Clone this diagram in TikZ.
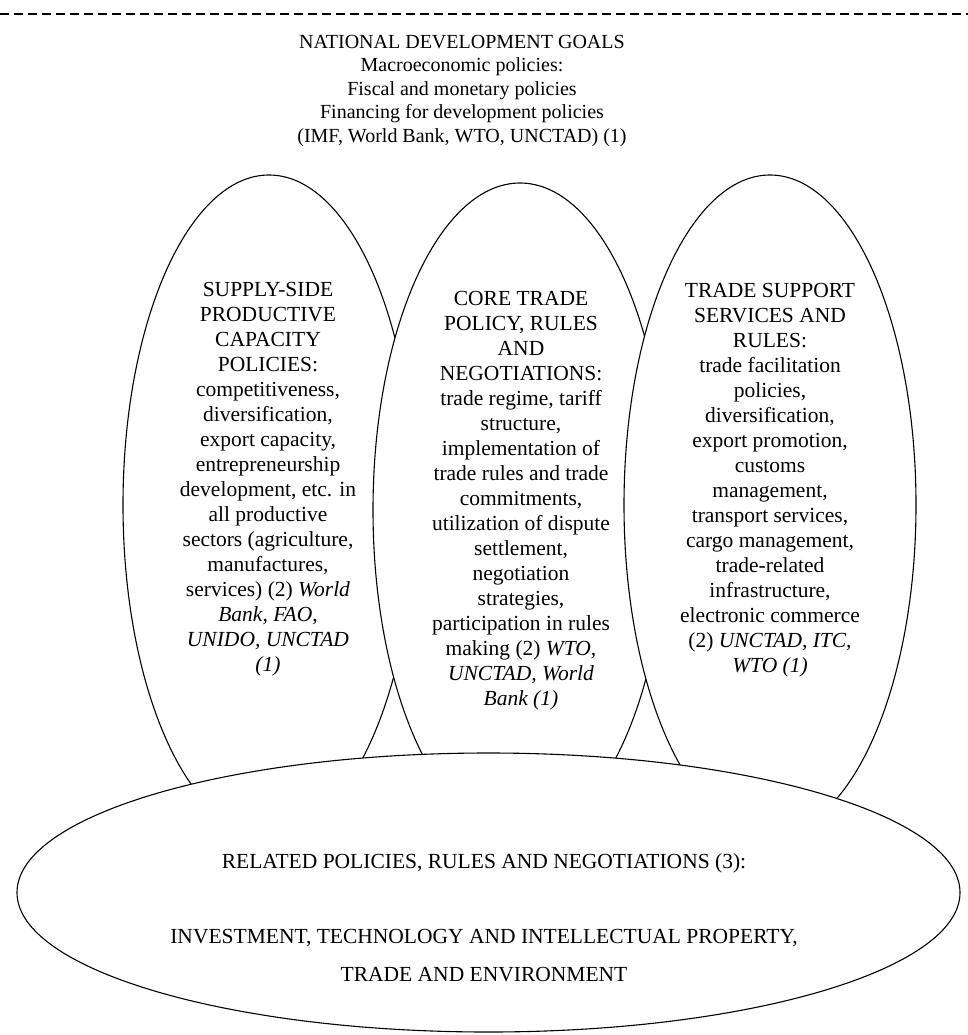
\documentclass[tikz,border=0pt]{standalone}
\usepackage{fontspec}
\setmainfont{Liberation Serif}
\usetikzlibrary{shapes.geometric}
\begin{document}
\begin{tikzpicture}[x=1pt,y=-1pt,
  oval/.style={draw, ellipse, fill=white, line width=1.1pt, inner sep=0pt},
  ovaltext/.style={align=center, inner sep=0pt, anchor=north, font=\fontsize{21.5}{25}\selectfont},
  titletext/.style={align=center, inner sep=0pt, anchor=north, font=\fontsize{20}{23.5}\selectfont},
  basetext/.style={align=center, inner sep=0pt, anchor=north, font=\fontsize{21.5}{37.5}\selectfont},
  rule/.style={line width=1.1pt, dash pattern=on 9pt off 5pt}]
\useasboundingbox (0,0) rectangle (968,1035);
% top dashed rule
\coordinate (ruleL) at (0,14);
\coordinate (ruleR) at (968,14);
\draw[rule] (ruleL) -- (ruleR);
% title
\node[titletext] (goals) at (462,35) {NATIONAL DEVELOPMENT GOALS\\Macroeconomic policies:\\Fiscal and monetary policies\\Financing for development policies\\(IMF, World Bank, WTO, UNCTAD) (1)};
% three overlapping ovals
\node[oval, minimum width=292pt, minimum height=660pt] (supply) at (269,505) {};
\node[oval, minimum width=294pt, minimum height=654pt] (core) at (520,510) {};
\node[oval, minimum width=292pt, minimum height=660pt] (support) at (770,505) {};
% bottom oval
\node[oval, minimum width=943pt, minimum height=279pt] (related) at (488.5,892.5) {};
% texts
\node[ovaltext] (supplytxt) at (268,282) {SUPPLY-SIDE\\PRODUCTIVE\\CAPACITY\\POLICIES:\\competitiveness,\\diversification,\\export capacity,\\entrepreneurship\\development, etc. in\\all productive\\sectors (agriculture,\\manufactures,\\services) (2) \textit{World}\\\textit{Bank, FAO,}\\\textit{UNIDO, UNCTAD}\\\textit{(1)}};
\node[ovaltext] (coretxt) at (521,291) {CORE TRADE\\POLICY, RULES\\AND\\NEGOTIATIONS:\\trade regime, tariff\\structure,\\implementation of\\trade rules and trade\\commitments,\\utilization of dispute\\settlement,\\negotiation\\strategies,\\participation in rules\\making (2) \textit{WTO,}\\\textit{UNCTAD, World}\\\textit{Bank (1)}};
\node[ovaltext] (supporttxt) at (770,283) {TRADE SUPPORT\\SERVICES AND\\RULES:\\trade facilitation\\policies,\\diversification,\\export promotion,\\customs\\management,\\transport services,\\cargo management,\\trade-related\\infrastructure,\\electronic commerce\\(2) \textit{UNCTAD, ITC,}\\\textit{WTO (1)}};
\node[basetext] (relatedtxt) at (484,853) {RELATED POLICIES, RULES AND NEGOTIATIONS (3):\\[38pt]INVESTMENT, TECHNOLOGY AND INTELLECTUAL PROPERTY,\\TRADE AND ENVIRONMENT};
\end{tikzpicture}
\end{document}
